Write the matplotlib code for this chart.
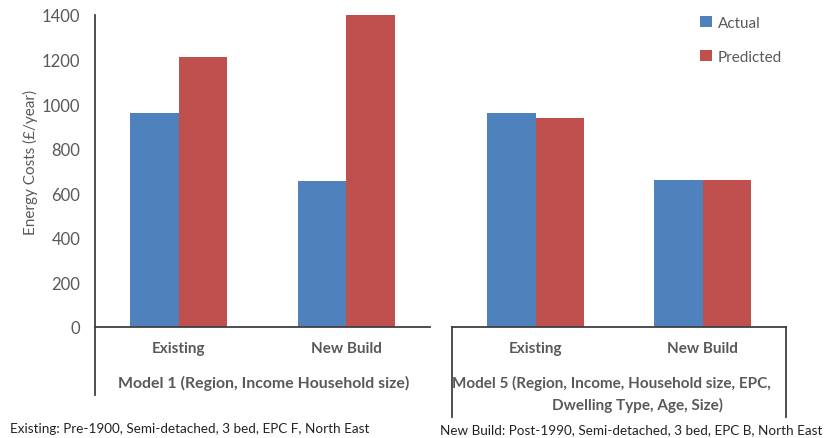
import matplotlib
matplotlib.use("Agg")
import matplotlib.pyplot as plt
from matplotlib.lines import Line2D

categories = ["Existing", "New Build"]
model1_actual = [960, 655]
model1_predicted = [1210, 1400]
model5_actual = [960, 660]
model5_predicted = [940, 660]
yticks = [0, 200, 400, 600, 800, 1000, 1200, 1400]
series_names = ["Actual", "Predicted"]
model1_label = "Model 1 (Region, Income Household size)"
model5_label_1 = "Model 5 (Region, Income, Household size, EPC,"
model5_label_2 = "Dwelling Type, Age, Size)"
note_existing = "Existing: Pre-1900, Semi-detached, 3 bed, EPC F, North East"
note_newbuild = "New Build: Post-1990, Semi-detached, 3 bed, EPC B, North East"

BLUE = "#4F81BD"
RED = "#C0504D"
GREY = "#595959"
LINE = "#404040"
FONT = ["Lato", "DejaVu Sans"]
plt.rcParams["font.family"] = FONT

W, H = 824, 439
fig = plt.figure(figsize=(W / 100, H / 100), dpi=100)


def fx(px):
    return px / W


def fy(py):
    return 1 - py / H


y_top, y_zero = 16, 328
ax1 = fig.add_axes([fx(95), fy(y_zero), fx(430) - fx(95), fy(y_top) - fy(y_zero)])
ax2 = fig.add_axes([fx(452), fy(y_zero), fx(786) - fx(452), fy(y_top) - fy(y_zero)])

bw = 0.29
x = list(range(len(categories)))
for ax, act, pred in [(ax1, model1_actual, model1_predicted), (ax2, model5_actual, model5_predicted)]:
    ax.bar([i - bw / 2 for i in x], act, width=bw, color=BLUE, label=series_names[0])
    ax.bar([i + bw / 2 for i in x], pred, width=bw, color=RED, label=series_names[1])
    ax.set_xlim(-0.5, 1.5)
    ax.set_ylim(0, 1400)
    ax.set_xticks(x)
    ax.set_xticklabels(categories, fontsize=11, fontweight="bold", color=GREY)
    ax.tick_params(axis="x", length=0, pad=10)
    ax.patch.set_visible(False)
    for s in ["top", "right"]:
        ax.spines[s].set_visible(False)

ax1.set_yticks(yticks)
ax1.set_yticklabels([str(v) for v in yticks], fontsize=12, color=GREY)
ax1.tick_params(axis="y", length=0, pad=10.5)
ax1.spines["left"].set_color(LINE)
ax1.spines["left"].set_linewidth(1.3)
ax1.spines["bottom"].set_color(LINE)
ax1.spines["bottom"].set_linewidth(1.3)
fig.text(fx(30), fy(162), "Energy Costs (£/year)", rotation=90, ha="center", va="center",
         fontsize=11, color=GREY)

ax2.set_yticks([])
ax2.spines["left"].set_visible(False)
ax2.spines["bottom"].set_color(LINE)
ax2.spines["bottom"].set_linewidth(1.3)

# extension lines (group boxes)
lw = 1.3
fig.add_artist(Line2D([fx(95), fx(95)], [fy(y_zero), fy(396)], color=LINE, lw=lw))
fig.add_artist(Line2D([fx(452), fx(452)], [fy(y_zero), fy(418)], color=LINE, lw=lw))
fig.add_artist(Line2D([fx(786), fx(786)], [fy(y_zero), fy(418)], color=LINE, lw=lw))

fig.text(fx(264), fy(383), model1_label, ha="center", va="center", fontsize=11.4,
         fontweight="bold", color=GREY)
fig.text(fx(611), fy(383), model5_label_1, ha="center", va="center", fontsize=11,
         fontweight="bold", color=GREY)
fig.text(fx(637), fy(405), model5_label_2, ha="center", va="center", fontsize=11,
         fontweight="bold", color=GREY)

fig.text(fx(10), fy(429), note_existing, ha="left", va="center", fontsize=9.7, color="#222222")
fig.text(fx(440), fy(430), note_newbuild, ha="left", va="center", fontsize=9.7, color="#222222")

h, l = ax1.get_legend_handles_labels()
fig.legend(h, l, loc="upper left", bbox_to_anchor=(fx(686), fy(3)), frameon=False,
           fontsize=11, labelcolor=GREY, handlelength=0.8, handleheight=0.8,
           handletextpad=0.4, labelspacing=1.3)

fig.savefig("out.png", dpi=100)
